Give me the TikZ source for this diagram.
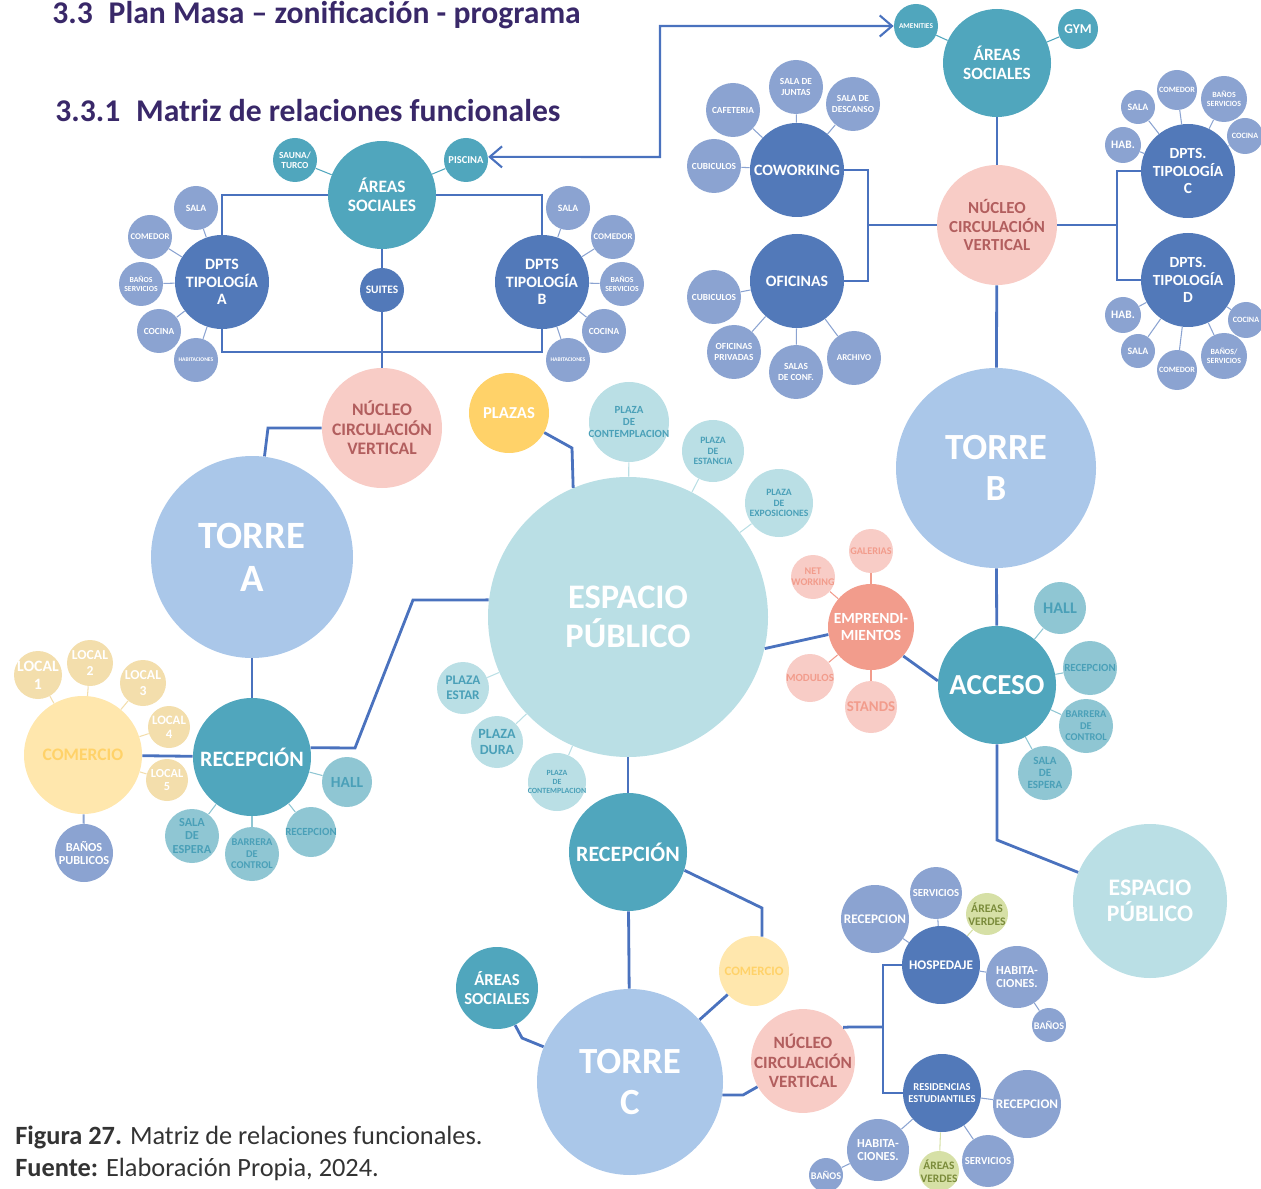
\documentclass[tikz,border=0pt]{standalone}
\usepackage{fontspec}
\setmainfont{Carlito}
\usetikzlibrary{arrows.meta}

\definecolor{cLink}{RGB}{74,114,190}
\definecolor{cHub}{RGB}{82,121,185}
\definecolor{cSat}{RGB}{139,163,209}
\definecolor{cTeal}{RGB}{80,166,189}
\definecolor{cTealL}{RGB}{143,198,211}
\definecolor{cTealT}{RGB}{74,160,184}
\definecolor{cEsp}{RGB}{186,223,229}
\definecolor{cTorre}{RGB}{170,199,233}
\definecolor{cNuc}{RGB}{248,204,198}
\definecolor{cNucT}{RGB}{178,94,94}
\definecolor{cPlazas}{RGB}{255,210,105}
\definecolor{cCom}{RGB}{255,231,173}
\definecolor{cLocal}{RGB}{243,222,172}
\definecolor{cEmp}{RGB}{242,156,140}
\definecolor{cEmpL}{RGB}{248,204,198}
\definecolor{cVerde}{RGB}{214,224,166}
\definecolor{cVerdeT}{RGB}{122,139,58}
\definecolor{cTitle}{RGB}{57,40,105}
\definecolor{cCap}{RGB}{51,51,51}

\tikzset{
    sz/.style={minimum size=#1*0.02cm},
    fs/.code={\pgfmathsetmacro\lskip{1.12*#1}\pgfkeysalso{/tikz/font=\bfseries\fontsize{#1}{\lskip}\selectfont}},
}

\begin{document}
\begin{tikzpicture}[
    x=0.02cm, y=-0.02cm,
    bubble/.style={circle, inner sep=-1.5pt, align=center, text=white},
    hub/.style={bubble, fill=cHub},
    sat/.style={bubble, fill=cSat, sz=44},
    soc/.style={bubble, fill=cTeal},
    tsat/.style={bubble, fill=cTealL, text=cTealT},
    nucleo/.style={bubble, fill=cNuc, text=cNucT},
    torre/.style={bubble, fill=cTorre},
    espacio/.style={bubble, fill=cEsp},
    plaza/.style={bubble, fill=cEsp, text=cTealT},
    comercio/.style={bubble, fill=cCom, text=cPlazas},
    local/.style={bubble, fill=cLocal},
    esat/.style={bubble, fill=cEmpL, text=cEmp},
    verde/.style={bubble, fill=cVerde, text=cVerdeT},
    link/.style={draw=cLink, line width=1.6pt},
    spoke/.style={draw=#1, line width=0.6pt},
    biarrow/.style={draw=cLink, line width=1.2pt, {Straight Barb[length=7pt,width=12pt]}-{Straight Barb[length=7pt,width=12pt]}}
]
\useasboundingbox (0,0) rectangle (1261,1189);

% Headings
\node[anchor=west, inner sep=0pt, text=cTitle, fs=18] (title) at (52,15) {3.3\enspace Plan Masa – zonificación - programa};
\node[anchor=west, inner sep=0pt, text=cTitle, fs=18] (subtitle) at (55,111) {3.3.1\enspace Matriz de relaciones funcionales};

% Torre A: upper floors
\node[soc, sz=108, fs=9.9] (asA) at (382,195) {ÁREAS\\SOCIALES};
\node[soc, sz=44, fs=5.3] (sauna) at (295,160) {SAUNA/\\TURCO};
\node[soc, sz=44, fs=6] (piscina) at (466,160) {PISCINA};
\node[hub, sz=44, fs=6.5] (suites) at (382,290) {SUITES};
\node[hub, sz=94, fs=9] (dpA) at (222,282) {DPTS\\TIPOLOGÍA\\A};
\node[sat, fs=5.5] (salaA) at (196,208) {SALA};
\node[sat, fs=5] (comeA) at (150,237) {COMEDOR};
\node[sat, fs=4.4] (banA) at (141,284) {BAÑOS\\SERVICIOS};
\node[sat, fs=5.3] (cociA) at (159,331) {COCINA};
\node[sat, fs=3.2] (habiA) at (196,360) {HABITACIONES};
\node[hub, sz=94, fs=9] (dpB) at (542,282) {DPTS\\TIPOLOGÍA\\B};
\node[sat, fs=5.5] (salaB) at (568,208) {SALA};
\node[sat, fs=5] (comeB) at (613,237) {COMEDOR};
\node[sat, fs=4.4] (banB) at (622,284) {BAÑOS\\SERVICIOS};
\node[sat, fs=5.3] (cociB) at (604,331) {COCINA};
\node[sat, fs=3.2] (habiB) at (568,360) {HABITACIONES};
\node[nucleo, sz=120, fs=10] (nucA) at (382,428) {NÚCLEO\\CIRCULACIÓN\\VERTICAL};

% Torre A: ground floor
\node[torre, sz=202, fs=22] (torA) at (252,557) {TORRE\\A};
\node[soc, sz=118, fs=12.5] (recA) at (252,757) {RECEPCIÓN};
\node[comercio, sz=118, fs=10] (comA) at (83,755) {COMERCIO};
\node[local, sz=48, fs=9] (loc1) at (38,675) {LOCAL\\1};
\node[local, sz=46, fs=7.8] (loc2) at (90,663) {LOCAL\\2};
\node[local, sz=46, fs=7.8] (loc3) at (143,683) {LOCAL\\3};
\node[local, sz=42, fs=7.3] (loc4) at (169,727) {LOCAL\\4};
\node[local, sz=42, fs=7] (loc5) at (167,780) {LOCAL\\5};
\node[sat, sz=58, fs=7] (banPub) at (84,853) {BAÑOS\\PUBLICOS};
\node[tsat, sz=50, fs=8.8] (hallA) at (347,782) {HALL};
\node[tsat, sz=50, fs=6.2] (rcpA) at (311,832) {RECEPCION};
\node[tsat, sz=54, fs=5.9] (barA) at (252,854) {BARRERA\\DE\\CONTROL};
\node[tsat, sz=54, fs=7] (espeA) at (192,836) {SALA\\DE\\ESPERA};

% Espacio publico central
\node[bubble, fill=cPlazas, sz=80, fs=9.5] (plazas) at (509,413) {PLAZAS};
\node[espacio, sz=280, fs=19.6] (espA) at (628,617) {ESPACIO\\PÚBLICO};
\node[plaza, sz=80, fs=6.2] (plCont) at (629,422) {PLAZA\\DE\\CONTEMPLACION};
\node[plaza, sz=62, fs=5.5] (plEsta) at (713,451) {PLAZA\\DE\\ESTANCIA};
\node[plaza, sz=68, fs=5.5] (plExpo) at (779,503) {PLAZA\\DE\\EXPOSICIONES};
\node[plaza, sz=52, fs=7.5] (plEstar) at (463,688) {PLAZA\\ESTAR};
\node[plaza, sz=52, fs=8] (plDura) at (497,742) {PLAZA\\DURA};
\node[plaza, sz=58, fs=4.5] (plCont2) at (557,782) {PLAZA\\DE\\CONTEMPLACION};

% Emprendimientos
\node[bubble, fill=cEmp, sz=86, fs=8.8] (empr) at (871,627) {EMPRENDI-\\MIENTOS};
\node[esat, sz=44, fs=5.8] (gal) at (871,551) {GALERIAS};
\node[esat, sz=44, fs=5.8] (netw) at (813,577) {NET\\WORKING};
\node[esat, sz=48, fs=6.2] (modu) at (810,678) {MODULOS};
\node[esat, sz=52, fs=8.5] (stands) at (871,707) {STANDS};

% Torre B
\node[soc, sz=108, fs=9.8] (asB) at (997,63) {ÁREAS\\SOCIALES};
\node[soc, sz=44, fs=4.2] (amen) at (916,26) {AMENITIES};
\node[soc, sz=40, fs=7.7] (gym) at (1078,29) {GYM};
\node[nucleo, sz=120, fs=9.6] (nucB) at (997,225) {NÚCLEO\\CIRCULACIÓN\\VERTICAL};
\node[hub, sz=94, fs=9] (cowo) at (797,170) {COWORKING};
\node[sat, sz=54, fs=5.3] (cubiC) at (714,166) {CUBICULOS};
\node[sat, sz=54, fs=5.3] (cafe) at (733,110) {CAFETERIA};
\node[sat, sz=54, fs=5.3] (junt) at (796,87) {SALA DE\\JUNTAS};
\node[sat, sz=54, fs=5.3] (desc) at (853,104) {SALA DE\\DESCANSO};
\node[hub, sz=94, fs=9] (ofic) at (797,281) {OFICINAS};
\node[sat, sz=54, fs=5.3] (cubiO) at (714,297) {CUBICULOS};
\node[sat, sz=54, fs=5.3] (ofPriv) at (734,352) {OFICINAS\\PRIVADAS};
\node[sat, sz=54, fs=5.3] (conf) at (796,372) {SALAS\\DE CONF.};
\node[sat, sz=54, fs=5.1] (arch) at (854,358) {ARCHIVO};
\node[hub, sz=94, fs=8.8] (dpC) at (1188,171) {DPTS.\\TIPOLOGÍA\\C};
\node[sat, sz=36, fs=6.5] (habC) at (1123,145) {HAB.};
\node[sat, sz=34, fs=5.6] (salaC) at (1138,107) {SALA};
\node[sat, sz=40, fs=4.6] (comeC) at (1177,90) {COMEDOR};
\node[sat, sz=46, fs=4.5] (banC) at (1224,99) {BAÑOS\\SERVICIOS};
\node[sat, sz=36, fs=4.6] (cociC) at (1245,136) {COCINA};
\node[hub, sz=94, fs=8.8] (dpD) at (1188,280) {DPTS.\\TIPOLOGÍA\\D};
\node[sat, sz=36, fs=6.5] (habD) at (1123,315) {HAB.};
\node[sat, sz=34, fs=5.6] (salaD) at (1138,351) {SALA};
\node[sat, sz=40, fs=4.6] (comeD) at (1177,370) {COMEDOR};
\node[sat, sz=46, fs=4.5] (banD) at (1224,356) {BAÑOS/\\SERVICIOS};
\node[sat, sz=36, fs=4.6] (cociD) at (1246,320) {COCINA};
\node[torre, sz=200, fs=21] (torB) at (996,468) {TORRE\\B};
\node[soc, sz=118, fs=16.5] (acc) at (997,685) {ACCESO};
\node[tsat, sz=52, fs=9.2] (hallB) at (1060,608) {HALL};
\node[tsat, sz=54, fs=6.2] (rcpB) at (1090,668) {RECEPCION};
\node[tsat, sz=54, fs=5.9] (barB) at (1086,726) {BARRERA\\DE\\CONTROL};
\node[tsat, sz=54, fs=6.3] (espeB) at (1045,773) {SALA\\DE\\ESPERA};
\node[espacio, sz=154, fs=13.5] (espB) at (1150,901) {ESPACIO\\PÚBLICO};

% Torre C
\node[soc, sz=118, fs=12.5] (recC) at (628,852) {RECEPCIÓN};
\node[comercio, sz=70, fs=7.3] (comC) at (754,971) {COMERCIO};
\node[torre, sz=186, fs=21] (torC) at (630,1082) {TORRE\\C};
\node[soc, sz=82, fs=9.5] (asC) at (497,988) {ÁREAS\\SOCIALES};
\node[nucleo, sz=98, fs=9.8] (nucC) at (803,1061) {NÚCLEO\\CIRCULACIÓN\\VERTICAL};
\node[hub, sz=78, fs=7.5] (hosp) at (941,965) {HOSPEDAJE};
\node[sat, sz=68, fs=7.5] (rcpH) at (875,919) {RECEPCION};
\node[sat, sz=52, fs=6.1] (servH) at (936,893) {SERVICIOS};
\node[verde, sz=42, fs=6.6] (verH) at (987,914) {ÁREAS\\VERDES};
\node[sat, sz=62, fs=7] (habiH) at (1017,977) {HABITA-\\CIONES.};
\node[sat, sz=34, fs=5.8] (banH) at (1049,1025) {BAÑOS};
\node[hub, sz=78, fs=6] (resi) at (942,1093) {RESIDENCIAS\\ESTUDIANTILES};
\node[sat, sz=68, fs=7.5] (rcpR) at (1027,1104) {RECEPCION};
\node[sat, sz=52, fs=6.1] (servR) at (988,1161) {SERVICIOS};
\node[verde, sz=40, fs=6.5] (verR) at (939,1171) {ÁREAS\\VERDES};
\node[sat, sz=62, fs=7] (habiR) at (878,1150) {HABITA-\\CIONES.};
\node[sat, sz=34, fs=5.8] (banR) at (826,1175) {BAÑOS};

% Caption
\node[anchor=north west, inner sep=0pt, align=left, text=cCap, font=\fontsize{15}{18}\selectfont] (caption) at (15,1126) {\textbf{Figura 27.} Matriz de relaciones funcionales.\\\textbf{Fuente:} Elaboración Propia, 2024.};

% Junctions
\coordinate (rbot) at (382,352);
\coordinate (jL) at (868,225);
\coordinate (jR) at (1117,225);
\coordinate (jC) at (883,1027);

% Main links, Torre A
\draw[link] (asA.west) -| (dpA.north);
\draw[link] (asA.east) -| (dpB.north);
\draw[link] (dpA.south) |- (rbot) -| (dpB.south);
\draw[link] (asA) -- (suites);
\draw[link] (suites) -- (nucA);
\draw[link] (nucA.west) -- (268,428) -- (torA);
\draw[link] (torA) -- (recA);
\draw[link] (comA) -- (recA);
\draw[link] (espA.173) -- (413,600) -- (355,748) -- (recA.9);
\draw[link] (plazas) -- (572,448) -- (espA.113.6);
\draw[biarrow] (piscina.8) -- (660,157) |- (amen);

% Main links, Torre B
\draw[link] (asB) -- (nucB);
\draw[link] (nucB) -- (torB);
\draw[link] (torB) -- (acc);
\draw[link] (acc.south) -- (997,840) -- (espB);
\draw[link] (cowo.east) -| (jL);
\draw[link] (ofic.east) -| (jL);
\draw[link] (jL) -- (nucB);
\draw[link] (nucB) -- (jR);
\draw[link] (dpC.west) -| (jR);
\draw[link] (dpD.west) -| (jR);
\draw[link] (espA.-13) -- (empr.190);
\draw[link] (empr.-42) -- (acc.176);

% Main links, Torre C
\draw[link] (espA) -- (recC);
\draw[link] (recC) -- (torC);
\draw[link] (recC.-18) -- (762,908) -- (comC.77);
\draw[link] (comC) -- (torC);
\draw[link] (asC.-64) -- (522,1038) -- (torC);
\draw[link] (torC.-8) -- (743,1095) -- (nucC);
\draw[link] (nucC.40) -- (850,1027) -- (jC);
\draw[link] (hosp.west) -| (jC);
\draw[link] (resi.west) -| (jC);

% Spokes
\foreach \s in {salaA,comeA,banA,cociA,habiA} \draw[spoke=cSat] (dpA) -- (\s);
\foreach \s in {salaB,comeB,banB,cociB,habiB} \draw[spoke=cSat] (dpB) -- (\s);
\foreach \s in {sauna,piscina} \draw[spoke=cTeal] (asA) -- (\s);
\foreach \s in {amen,gym} \draw[spoke=cTeal] (asB) -- (\s);
\foreach \s in {loc1,loc2,loc3,loc4,loc5} \draw[spoke=cLocal] (comA) -- (\s);
\draw[spoke=cSat, line width=1.2pt] (comA) -- (banPub);
\foreach \s in {hallA,rcpA,barA,espeA} \draw[spoke=cTealL] (recA) -- (\s);
\foreach \s in {plCont,plEsta,plExpo,plEstar,plDura,plCont2} \draw[spoke=cEsp] (espA) -- (\s);
\foreach \s in {gal,netw,modu,stands} \draw[spoke=cEmp] (empr) -- (\s);
\foreach \s in {hallB,rcpB,barB,espeB} \draw[spoke=cTealL] (acc) -- (\s);
\foreach \s in {cubiC,cafe,junt,desc} \draw[spoke=cSat] (cowo) -- (\s);
\foreach \s in {cubiO,ofPriv,conf,arch} \draw[spoke=cSat] (ofic) -- (\s);
\foreach \s in {habC,salaC,comeC,banC,cociC} \draw[spoke=cSat] (dpC) -- (\s);
\foreach \s in {habD,salaD,comeD,banD,cociD} \draw[spoke=cSat] (dpD) -- (\s);
\foreach \s in {rcpH,servH,habiH} \draw[spoke=cSat] (hosp) -- (\s);
\draw[spoke=cVerde] (hosp) -- (verH);
\draw[spoke=cSat] (habiH) -- (banH);
\foreach \s in {rcpR,servR,habiR} \draw[spoke=cSat] (resi) -- (\s);
\draw[spoke=cVerde] (resi) -- (verR);
\draw[spoke=cSat] (habiR) -- (banR);

\end{tikzpicture}
\end{document}
